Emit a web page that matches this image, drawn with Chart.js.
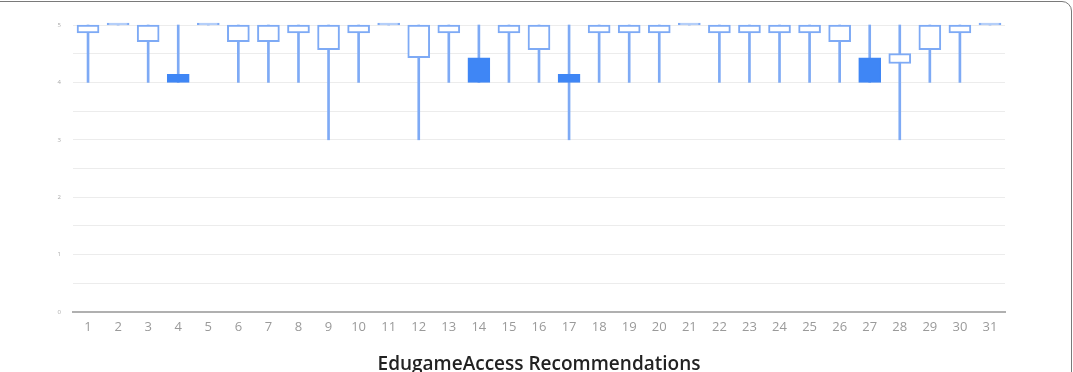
<!DOCTYPE html>
<html>
<head>
<meta charset="utf-8">
<script src="https://cdn.jsdelivr.net/npm/chart.js@4.4.1/dist/chart.umd.min.js"></script>
<style>
  html, body { margin: 0; padding: 0; background: #fff; overflow: hidden; }
  #frame {
    position: absolute; left: -12px; top: 1px; width: 1084px; height: 420px;
    border: 1.5px solid #7a7a7a; border-radius: 10px; box-sizing: border-box;
  }
  #wrap { position: absolute; left: 0; top: 0; width: 1073px; height: 372px; }
</style>
</head>
<body>
<div id="frame"></div>
<div id="wrap"><canvas id="chart"></canvas></div>
<script>
// Recommendation numbers along the x axis
const categories = ['1','2','3','4','5','6','7','8','9','10','11','12','13','14','15','16',
  '17','18','19','20','21','22','23','24','25','26','27','28','29','30','31'];

// Candle values (low / open / close / high)
const lowValues   = [4, 5, 4, 4, 5, 4, 4, 4, 3, 4, 5, 3, 4, 4, 4, 4, 3, 4, 4, 4, 5, 4, 4, 4, 4, 4, 4, 3, 4, 4, 5];
const openValues  = [4.86, 5, 4.71, 4.14, 5, 4.71, 4.71, 4.86, 4.57, 4.86, 5, 4.43, 4.86, 4.43, 4.86, 4.57,
  4.14, 4.86, 4.86, 4.86, 5, 4.86, 4.86, 4.86, 4.86, 4.71, 4.43, 4.33, 4.57, 4.86, 5];
const closeValues = [5, 5, 5, 4, 5, 5, 5, 5, 5, 5, 5, 5, 5, 4, 5, 5, 4, 5, 5, 5, 5, 5, 5, 5, 5, 5, 4, 4.5, 5, 5, 5];
const highValues  = [5, 5, 5, 5, 5, 5, 5, 5, 5, 5, 5, 5, 5, 5, 5, 5, 5, 5, 5, 5, 5, 5, 5, 5, 5, 5, 5, 5, 5, 5, 5];

const yTicks = [0, 1, 2, 3, 4, 5];

document.addEventListener('DOMContentLoaded', () => {
  const canvas = document.getElementById('chart');
  const solid = '#3f86f5';
  const light = '#7eaaf5';

  const falling = openValues.map((o, i) => o > closeValues[i]);

  try {
    new Chart(canvas, {
      type: 'bar',
      data: {
        labels: categories,
        datasets: [
          {
            // candle bodies
            data: openValues.map((o, i) => [o, closeValues[i]]),
            backgroundColor: falling.map(f => f ? solid : '#ffffff'),
            borderColor: falling.map(f => f ? solid : light),
            borderWidth: 2,
            borderSkipped: false,
            barThickness: 22,
            minBarLength: 2,
            grouped: false,
            clip: false
          },
          {
            // wicks
            data: lowValues.map((l, i) => [l, highValues[i]]),
            backgroundColor: light,
            borderWidth: 0,
            barThickness: 2,
            grouped: false,
            clip: false
          }
        ]
      },
      options: {
        responsive: true,
        maintainAspectRatio: false,
        animation: false,
        layout: { padding: { top: 25, right: 68, bottom: 0, left: 0 } },
        plugins: { legend: { display: false }, tooltip: { enabled: false } },
        scales: {
          x: {
            grid: { display: false },
            border: { display: true, color: '#b0b0b0', width: 2 },
            ticks: {
              color: '#9a9a9a',
              padding: -1,
              maxRotation: 0,
              autoSkip: false,
              font: { family: 'Open Sans', size: 13 }
            },
            title: {
              display: true,
              text: 'EdugameAccess Recommendations',
              color: '#222',
              padding: { top: 0, bottom: -4 },
              font: { family: 'Open Sans', size: 19, weight: '600' }
            },
            afterFit: s => { s.height = 60; }
          },
          y: {
            min: 0,
            max: 5,
            border: { display: false },
            grid: { color: '#ececec', drawTicks: false },
            afterFit: s => { s.width = 73; },
            ticks: {
              stepSize: 0.5,
              padding: 12,
              color: '#aaa',
              font: { family: 'Open Sans', size: 6 },
              callback: v => (yTicks.includes(v) ? v : '')
            }
          }
        }
      }
    });
  } catch (error) {
    console.error('chart: render failed', error);
  }
});
</script>
</body>
</html>
